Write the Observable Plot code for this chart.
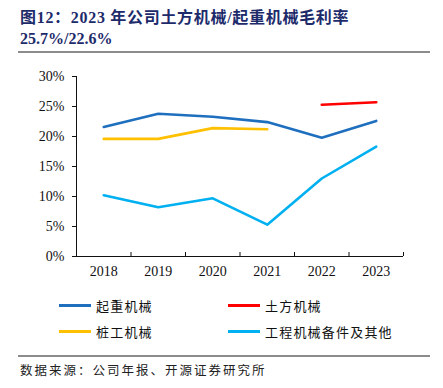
<!DOCTYPE html>
<html>
<head>
<meta charset="utf-8">
<script src="https://cdn.jsdelivr.net/npm/d3@7"></script>
<script src="https://cdn.jsdelivr.net/npm/@observablehq/plot@0.6"></script>
<style>
  html, body { margin: 0; padding: 0; background: #fff; }
  #wrap { position: relative; width: 443px; height: 388px; overflow: hidden; background: #fff; }
  .title { position: absolute; left: 20px; color: #1d2b6b; font-weight: bold; font-size: 16px;
           font-family: "Liberation Serif", "Times New Roman", "Noto Sans CJK SC", serif; white-space: nowrap; }
  .rule { position: absolute; left: 18px; width: 412px; height: 2px; background: #8c8c8c; }
  #chart { position: absolute; left: 0; top: 60px; }
  .leg { position: absolute; display: flex; align-items: center; font-size: 13px; letter-spacing: 1.2px;
         font-family: "Noto Sans CJK SC", sans-serif; color: #111; white-space: nowrap; }
  .leg .sw { width: 32px; height: 3px; margin-right: 5px; }
  .src { position: absolute; left: 20px; top: 360px; font-size: 12.5px; letter-spacing: 2px; color: #222;
         font-family: "Noto Sans CJK SC", sans-serif; white-space: nowrap; }
</style>
</head>
<body>
<div id="wrap">
  <div class="title" style="top:4px; letter-spacing:0.7px">图12：2023 年公司土方机械/起重机械毛利率</div>
  <div class="title" style="top:30px">25.7%/22.6%</div>
  <div class="rule" style="top:51px"></div>
  <div id="chart"></div>
  <div id="legend"></div>
  <div class="rule" style="top:355px"></div>
  <div class="src">数据来源：公司年报、开源证券研究所</div>
</div>
<script>
const years = [2018, 2019, 2020, 2021, 2022, 2023];
const seriesNames = ["起重机械", "土方机械", "桩工机械", "工程机械备件及其他"];
const seriesColors = ["#1f6fbf", "#ff0000", "#ffc000", "#00b0f0"];
const liftingValues = [21.6, 23.8, 23.3, 22.4, 19.8, 22.6];
const earthmovingValues = [null, null, null, null, 25.3, 25.7];
const pilingValues = [19.6, 19.6, 21.4, 21.2, null, null];
const partsValues = [10.2, 8.2, 9.7, 5.3, 13.0, 18.3];
const yTicks = [0, 5, 10, 15, 20, 25, 30];

const allValues = [liftingValues, earthmovingValues, pilingValues, partsValues];
const data = allValues.flatMap((vals, i) =>
  years.map((y, j) => ({year: y, value: vals[j], series: seriesNames[i]})).filter(d => d.value != null));

const xDomain = [years[0] - 0.5, years[years.length - 1] + 0.5];
const boundaries = years.map(y => y + 0.5);

const chart = Plot.plot({
  width: 443,
  height: 230,
  marginTop: 16,
  marginBottom: 34,
  marginLeft: 76,
  marginRight: 40,
  style: {fontFamily: "'Liberation Serif', 'Times New Roman', serif", fontSize: "14px", color: "#111", background: "transparent"},
  x: {domain: xDomain, axis: null},
  y: {domain: [yTicks[0], yTicks[yTicks.length - 1]], axis: null},
  color: {domain: seriesNames, range: seriesColors},
  marks: [
    Plot.axisY({ticks: yTicks, tickFormat: d => d + "%", tickSize: 4, tickPadding: 8, label: null, fontSize: 14}),
    Plot.axisX({ticks: years, tickFormat: d => String(d), tickSize: 0, tickPadding: 10, label: null, fontSize: 14}),
    Plot.axisX({ticks: boundaries, tickFormat: () => "", tickSize: -4, label: null}),
    Plot.ruleX([xDomain[0]], {stroke: "#111", strokeWidth: 1}),
    Plot.ruleY([yTicks[0]], {stroke: "#111", strokeWidth: 1}),
    Plot.line(data, {x: "year", y: "value", z: "series", stroke: "series", strokeWidth: 2.6})
  ]
});
document.getElementById("chart").appendChild(chart);

const legendPos = [[59, 296], [228, 296], [59, 322], [228, 322]];
const legend = document.getElementById("legend");
seriesNames.forEach((name, i) => {
  const d = document.createElement("div");
  d.className = "leg";
  d.style.left = legendPos[i][0] + "px";
  d.style.top = legendPos[i][1] + "px";
  d.innerHTML = `<span class="sw" style="background:${seriesColors[i]}"></span><span>${name}</span>`;
  legend.appendChild(d);
});
</script>
</body>
</html>
